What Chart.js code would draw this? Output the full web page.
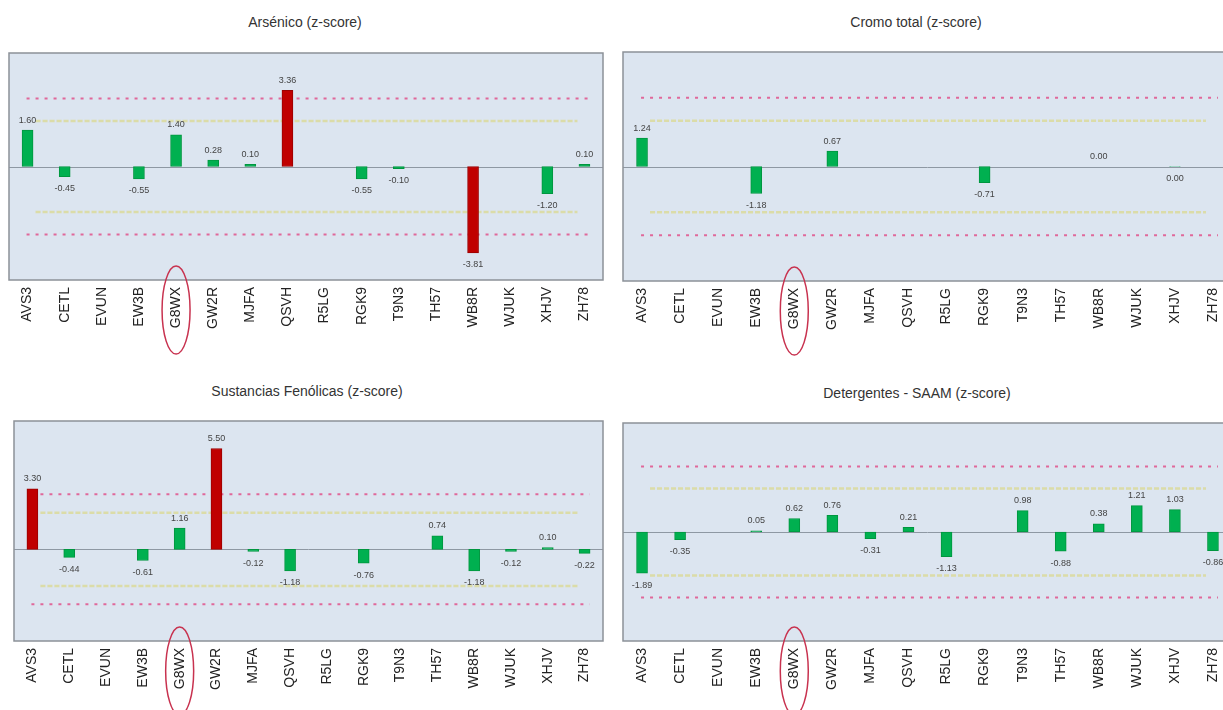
<!DOCTYPE html>
<html>
<head>
<meta charset="utf-8">
<title>z-score</title>
<script src="https://cdn.jsdelivr.net/npm/chart.js@4.4.1/dist/chart.umd.min.js"></script>
<style>
  html, body { margin: 0; padding: 0; background: #fff; overflow: hidden; }
  body { width: 1223px; height: 710px; position: relative; font-family: Arial, "Liberation Sans", sans-serif; }
  canvas { position: absolute; }
  .title { position: absolute; width: 320px; text-align: center; font-size: 14px; line-height: 16px; color: #333; }
</style>
</head>
<body>

<div class="title" style="left:145px; top:14px;">Arsénico (z-score)</div>
<div class="title" style="left:756px; top:14px;">Cromo total (z-score)</div>
<div class="title" style="left:147px; top:383px;">Sustancias Fenólicas (z-score)</div>
<div class="title" style="left:757px; top:385px;">Detergentes - SAAM (z-score)</div>

<canvas id="arsenico" width="612" height="360" style="left:0; top:0;"></canvas>
<canvas id="cromo" width="640" height="360" style="left:600px; top:0;"></canvas>
<canvas id="fenolicas" width="612" height="340" style="left:0; top:370px;"></canvas>
<canvas id="detergentes" width="640" height="340" style="left:600px; top:370px;"></canvas>

<script>
// laboratories (same order in every panel)
const categories = ["AVS3", "CETL", "EVUN", "EW3B", "G8WX", "GW2R", "MJFA", "QSVH",
  "R5LG", "RGK9", "T9N3", "TH57", "WB8R", "WJUK", "XHJV", "ZH78"];

// z-scores, null = no result
const arsenico    = [1.60, -0.45, null, -0.55, 1.40, 0.28, 0.10, 3.36, null, -0.55, -0.10, null, -3.81, null, -1.20, 0.10];
const cromo       = [1.24, null, null, -1.18, null, 0.67, null, null, null, -0.71, null, null, 0.00, null, -0.001, null];
const fenolicas   = [3.30, -0.44, null, -0.61, 1.16, 5.50, -0.12, -1.18, null, -0.76, null, 0.74, -1.18, -0.12, 0.10, -0.22];
const detergentes = [-1.89, -0.35, null, 0.05, 0.62, 0.76, -0.31, 0.21, -1.13, null, 0.98, -0.88, 0.38, 1.21, 1.03, -0.86];

// warning and action limits
const warnLimits = [2, -2];
const actionLimits = [3, -3];

// highlighted lab
const highlightLab = "G8WX";

const GREEN = "#00b050";
const GREEN_DARK = "#00963f";
const RED = "#c00000";
const RED_DARK = "#9a0000";

function fmt(v) {
  return (Math.abs(v) < 0.005 ? 0 : v).toFixed(2);
}

// background, limit lines, value labels, frame and the red ellipse
const panelDecor = {
  id: "panelDecor",
  beforeDraw(chart) {
    const { ctx, chartArea: a } = chart;
    ctx.save();
    ctx.fillStyle = "#dce5f0";
    ctx.fillRect(a.left, a.top, a.right - a.left, a.bottom - a.top);
    ctx.restore();
  },
  beforeDatasetsDraw(chart) {
    const { ctx, chartArea: a, scales } = chart;
    const x = scales.x, y = scales.y;
    const x0 = x.getPixelForValue(0);
    const x1 = x.getPixelForValue(categories.length - 1);
    ctx.save();
    // zero line
    ctx.strokeStyle = "#8e98a3";
    ctx.lineWidth = 1;
    ctx.beginPath();
    const yz = Math.round(y.getPixelForValue(0)) + 0.5;
    ctx.moveTo(a.left, yz);
    ctx.lineTo(a.right, yz);
    ctx.stroke();
    // warning limits
    ctx.strokeStyle = "rgba(218,218,160,0.9)";
    ctx.lineWidth = 2.5;
    ctx.setLineDash([5, 2]);
    warnLimits.forEach(v => {
      const py = y.getPixelForValue(v);
      ctx.beginPath();
      ctx.moveTo(x0 + 8, py);
      ctx.lineTo(x1 - 7, py);
      ctx.stroke();
    });
    // action limits
    ctx.strokeStyle = "#e0689a";
    ctx.lineWidth = 2;
    ctx.setLineDash([3, 6]);
    actionLimits.forEach(v => {
      const py = y.getPixelForValue(v);
      ctx.beginPath();
      ctx.moveTo(x0 - 1, py);
      ctx.lineTo(x1 + 5, py);
      ctx.stroke();
    });
    ctx.restore();
  },
  afterDatasetsDraw(chart) {
    const { ctx, chartArea: a, scales } = chart;
    const meta = chart.getDatasetMeta(0);
    const values = chart.data.datasets[0].data;
    ctx.save();
    ctx.font = "9px Arial, 'Liberation Sans', sans-serif";
    ctx.fillStyle = "#444";
    ctx.textAlign = "center";
    ctx.textBaseline = "middle";
    meta.data.forEach((bar, i) => {
      const v = values[i];
      if (v === null || v === undefined) return;
      const py = v >= 0 ? bar.y - 10 : bar.y + 12;
      ctx.fillText(fmt(v), bar.x, py);
    });
    // frame
    ctx.strokeStyle = "#8c9198";
    ctx.lineWidth = 1.5;
    ctx.strokeRect(a.left, a.top, a.right - a.left, a.bottom - a.top);
    // ellipse round the highlighted lab
    const hx = scales.x.getPixelForValue(categories.indexOf(highlightLab));
    ctx.strokeStyle = "#c8324f";
    ctx.lineWidth = 1.5;
    ctx.beginPath();
    ctx.ellipse(hx, a.bottom + 30, 14, 44, 0, 0, Math.PI * 2);
    ctx.stroke();
    ctx.restore();
  }
};

function makeChart(id, values, yMin, yMax, pad, axisHeight) {
  const ctx = document.getElementById(id).getContext("2d");
  return new Chart(ctx, {
    type: "bar",
    data: {
      labels: categories,
      datasets: [{
        data: values,
        backgroundColor: values.map(v => Math.abs(v) > 3 ? RED : GREEN),
        borderColor: values.map(v => Math.abs(v) > 3 ? RED_DARK : GREEN_DARK),
        borderWidth: 1,
        borderSkipped: false,
        barThickness: 11
      }]
    },
    options: {
      responsive: false,
      animation: false,
      layout: { padding: pad },
      plugins: {
        legend: { display: false },
        title: { display: false },
        tooltip: { enabled: false }
      },
      scales: {
        x: {
          offset: true,
          grid: { display: false, drawTicks: false },
          border: { display: false },
          ticks: {
            autoSkip: false,
            minRotation: 90,
            maxRotation: 90,
            padding: 7,
            color: "#222",
            font: { size: 14, family: "Arial, 'Liberation Sans', sans-serif" }
          },
          afterFit(scale) { scale.height = axisHeight; }
        },
        y: {
          display: false,
          min: yMin,
          max: yMax
        }
      }
    },
    plugins: [panelDecor]
  });
}

makeChart("arsenico", arsenico, -5, 5, { left: 9, right: 9, top: 53, bottom: 0 }, 80);
makeChart("cromo", cromo, -5, 5, { left: 23, right: 8, top: 52, bottom: 0 }, 79);
makeChart("fenolicas", fenolicas, -5, 7, { left: 14, right: 9, top: 51, bottom: 0 }, 69);
makeChart("detergentes", detergentes, -5, 5, { left: 23, right: 8, top: 53, bottom: 0 }, 69);
</script>
</body>
</html>
